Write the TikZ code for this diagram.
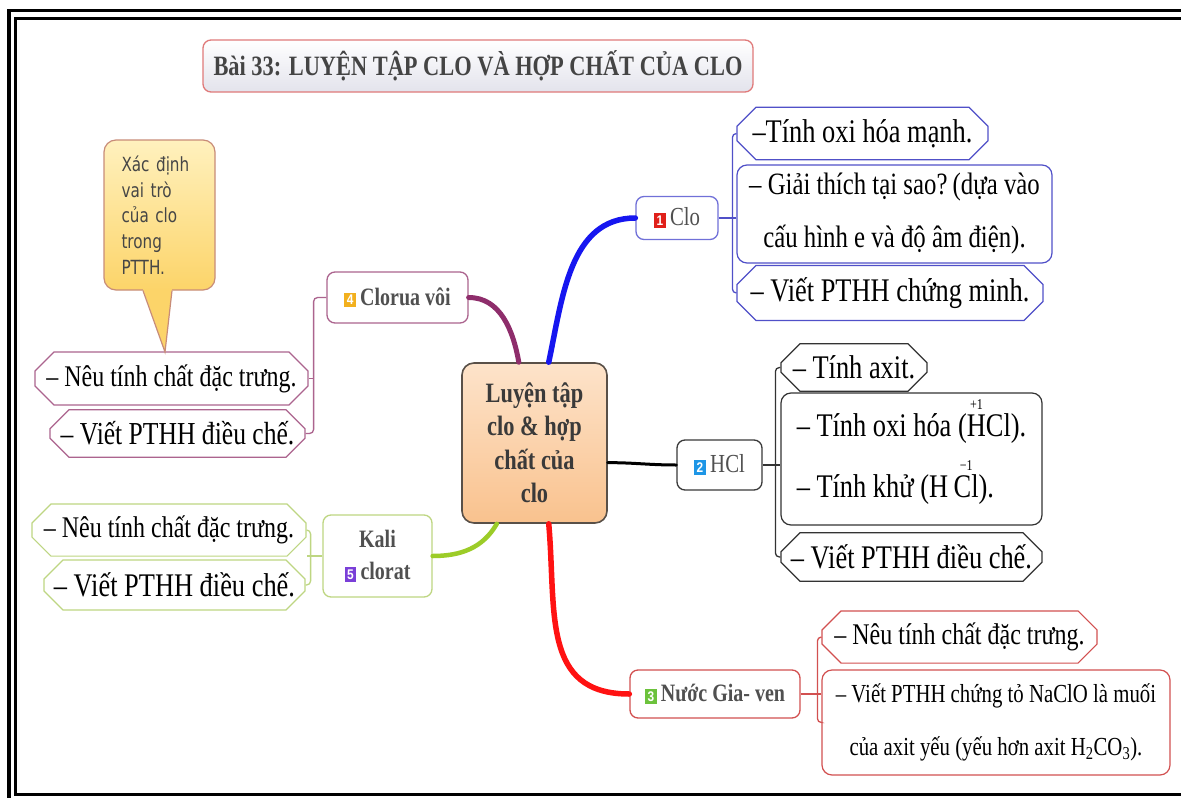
\documentclass[tikz,border=0pt]{standalone}
\usepackage{fontspec}
\usetikzlibrary{shapes.misc}
\setmainfont{Liberation Serif}
\newfontfamily\tnr[FakeStretch=0.8]{Liberation Serif}
\newfontfamily\tnrsans[FakeStretch=0.85]{Liberation Sans}
\newfontfamily\notefont[FakeStretch=0.78]{DejaVu Sans}

\definecolor{brblue}{RGB}{22,22,240}
\definecolor{brpurple}{RGB}{142,45,107}
\definecolor{brred}{RGB}{255,18,18}
\definecolor{brgreen}{RGB}{156,204,40}
\definecolor{cloline}{RGB}{80,80,200}
\definecolor{gvline}{RGB}{210,80,80}
\definecolor{cvline}{RGB}{172,100,142}
\definecolor{kcline}{RGB}{190,214,130}
\definecolor{txtgray}{RGB}{80,80,80}
\definecolor{bdgred}{RGB}{224,32,26}
\definecolor{bdgblue}{RGB}{30,150,230}
\definecolor{bdggreen}{RGB}{108,194,60}
\definecolor{bdgorange}{RGB}{242,176,30}
\definecolor{bdgpurple}{RGB}{122,63,216}
\definecolor{notetop}{RGB}{255,241,190}
\definecolor{notebot}{RGB}{252,212,105}
\definecolor{hubtop}{RGB}{253,227,202}
\definecolor{hubbot}{RGB}{249,194,142}

\newcommand{\badge}[2]{\raisebox{0.5pt}{\setlength{\fboxsep}{2.6pt}\colorbox{#1}{\color{white}\tnrsans\bfseries\fontsize{14}{14}\selectfont #2}}}
\newcommand{\oxi}[2]{\ooalign{#2\cr\hidewidth\raisebox{27pt}{\fontsize{15}{15}\selectfont #1}\hidewidth\cr}}
\newcommand{\leaffont}[1]{\tnr\fontsize{#1}{#1}\selectfont}

\begin{document}
\begin{tikzpicture}[x=1pt,y=-1pt,
  leaf/.style={chamfered rectangle, chamfered rectangle xsep=7pt, chamfered rectangle ysep=12pt,
    draw, fill=white, line width=1.2pt, inner sep=0pt},
  card/.style={rectangle, rounded corners=10pt, draw, fill=white, line width=1.2pt, inner sep=0pt, align=center},
  topic/.style={rectangle, rounded corners=8pt, draw, fill=white, line width=1.3pt, inner sep=0pt,
    align=center, text=txtgray},
  branch/.style={line width=#1, line cap=round},
  link/.style={line width=1.3pt, rounded corners=4pt}]

\useasboundingbox (0,0) rectangle (1181,798);
\clip (0,0) rectangle (1181,798);
\fill[white] (0,0) rectangle (1181,798);
\draw[line width=3.5pt] (9,10.5) rectangle (1200,820);
\draw[line width=3pt] (15,18.5) rectangle (1200,794);

\node[rectangle, rounded corners=8pt, draw={rgb,255:red,224;green,122;blue,122}, line width=1.3pt,
  top color=white, bottom color={rgb,255:red,227;green,227;blue,236}, minimum width=550, minimum height=52,
  inner sep=0pt, text={rgb,255:red,68;green,68;blue,68}, font=\tnr\bfseries\fontsize{28}{28}\selectfont]
  (title) at (478,66) {Bài 33: LUYỆN TẬP CLO VÀ HỢP CHẤT CỦA CLO};

\node[rectangle, rounded corners=12pt, draw={rgb,255:red,89;green,80;blue,72}, line width=1.6pt,
  top color=hubtop, bottom color=hubbot, minimum width=145, minimum height=160, inner sep=0pt,
  align=center, text={rgb,255:red,58;green,58;blue,58}, font=\tnr\bfseries\fontsize{28}{33.5}\selectfont]
  (hub) at (534.5,443) {Luyện tập\\clo \& hợp\\chất của\\clo};

\node[topic, draw={rgb,255:red,112;green,112;blue,216}, minimum width=82, minimum height=43,
  font=\tnr\fontsize{26}{26}\selectfont] (clo) at (677,218) {\badge{bdgred}{1}\,Clo};
\node[topic, draw={rgb,255:red,58;green,58;blue,58}, minimum width=85, minimum height=50,
  font=\tnr\fontsize{26}{26}\selectfont] (hcl) at (719.5,465) {\badge{bdgblue}{2}\,HCl};
\node[topic, draw=gvline, minimum width=170, minimum height=48,
  font=\tnr\bfseries\fontsize{25}{25}\selectfont] (gv) at (715,694) {\badge{bdggreen}{3}\,Nước Gia- ven};
\node[topic, draw=cvline, minimum width=141, minimum height=51,
  font=\tnr\bfseries\fontsize{25}{25}\selectfont] (cv) at (397.5,297.5) {\badge{bdgorange}{4}\,Clorua vôi};
\node[topic, draw=kcline, minimum width=109, minimum height=82,
  font=\tnr\bfseries\fontsize{25}{32}\selectfont] (kc) at (377.5,556) {Kali\\\badge{bdgpurple}{5}\,clorat};

\node[leaf, draw=cloline, minimum width=251, minimum height=47, font=\leaffont{33}] (c1) at (862.5,133.5) {–Tính oxi hóa mạnh.};
\node[card, draw=cloline, minimum width=315, minimum height=98, font=\tnr\fontsize{31}{53}\selectfont]
  (c2) at (894.5,214) {– Giải thích tại sao?\,(dựa vào\\cấu hình e và độ âm điện).};
\node[leaf, draw=cloline, minimum width=306, minimum height=50, font=\leaffont{33}] (c3) at (890,293) {– Viết PTHH chứng minh.};

\node[leaf, draw=black!80, minimum width=146, minimum height=41, font=\leaffont{33}] (h1) at (854,367.5) {– Tính axit.};
\node[card, draw=black!80, minimum width=261, minimum height=132, align=left, font=\tnr\fontsize{33}{61}\selectfont]
  (h2) at (911.5,459) {– Tính oxi hóa (\oxi{+1}{H}Cl).\\– Tính khử (H\,\oxi{−1}{Cl}).};
\node[leaf, draw=black!80, minimum width=261, minimum height=48, font=\leaffont{33}] (h3) at (911.5,557) {– Viết PTHH điều chế.};

\node[leaf, draw=gvline, minimum width=275, minimum height=50, font=\leaffont{30}] (g1) at (959.5,637) {– Nêu tính chất đặc trưng.};
\node[card, draw=gvline, minimum width=348, minimum height=105, font=\tnr\fontsize{26}{53}\selectfont]
  (g2) at (996,722.5) {– Viết PTHH chứng tỏ NaClO là muối\\của axit yếu (yếu hơn axit H\textsubscript{2}CO\textsubscript{3}).};

\node[leaf, draw=cvline, minimum width=273, minimum height=53, font=\leaffont{30}] (v1) at (171.5,378.5) {– Nêu tính chất đặc trưng.};
\node[leaf, draw=cvline, minimum width=255, minimum height=47, font=\leaffont{32}] (v2) at (177.5,433.5) {– Viết PTHH điều chế.};

\node[leaf, draw=kcline, minimum width=274, minimum height=46, font=\leaffont{30}] (k1) at (169,530) {– Nêu tính chất đặc trưng.};
\node[leaf, draw=kcline, minimum width=261, minimum height=50, font=\leaffont{33}] (k2) at (174.5,585) {– Viết PTHH điều chế.};

\node[rectangle, rounded corners=12pt, draw={rgb,255:red,200;green,140;blue,120}, line width=1.2pt,
  top color=notetop, bottom color=notebot, minimum width=111, minimum height=150, inner sep=0pt,
  text width=76, align=left, text={rgb,255:red,70;green,70;blue,70}, font=\notefont\fontsize{19.5}{25.7}\selectfont]
  (note) at (159.5,215) {Xác định\\vai trò\\của clo\\trong\\PTTH.};
\coordinate (tip) at (165,352);
\fill[notebot] ([xshift=-16.5,yshift=1.5]note.south) -- (tip) -- ([xshift=12.5,yshift=1.5]note.south) -- cycle;
\draw[line width=1.2pt, draw={rgb,255:red,200;green,140;blue,120}] ([xshift=-16.5]note.south) -- (tip) -- ([xshift=12.5]note.south);

\draw[branch=5.5pt, brblue] (hub.80) to[out=78, in=180] (clo.west);
\draw[branch=5pt, brpurple] (hub.101) to[out=100, in=0] (cv.east);
\draw[branch=3pt, black] (hub.-15) to[out=0, in=180] (hcl.west);
\draw[branch=5.5pt, brred] (hub.-80) to[out=-85, in=180, looseness=1.2] (gv.west);
\draw[branch=4.5pt, brgreen] (hub.-115) to[out=-120, in=0] (kc.east);

\draw[link, cloline] (clo.east) -- (clo.east -| c2.west);
\draw[link, cloline] (c1.west) -- ++(-4,0) |- (c3.west);
\draw[link, black!80] (hcl.east) -- (hcl.east -| h2.west);
\draw[link, black!80] (h1.west) -- ++(-5,0) |- (h3.west);
\draw[link, gvline] (gv.east) -- (gv.east -| g2.west);
\draw[link, gvline] (g1.west) -- ++(-4,0) |- (g2.west);
\draw[link, cvline] (cv.west) -| ([xshift=5]v1.east) |- (v2.east);
\draw[link, cvline] (v1.east) -- ++(5,0);
\draw[link, kcline] (kc.west) -- (kc.west -| k1.east);
\draw[link, kcline] (k1.east) -- ++(4,0) |- (k2.east);
\end{tikzpicture}
\end{document}
